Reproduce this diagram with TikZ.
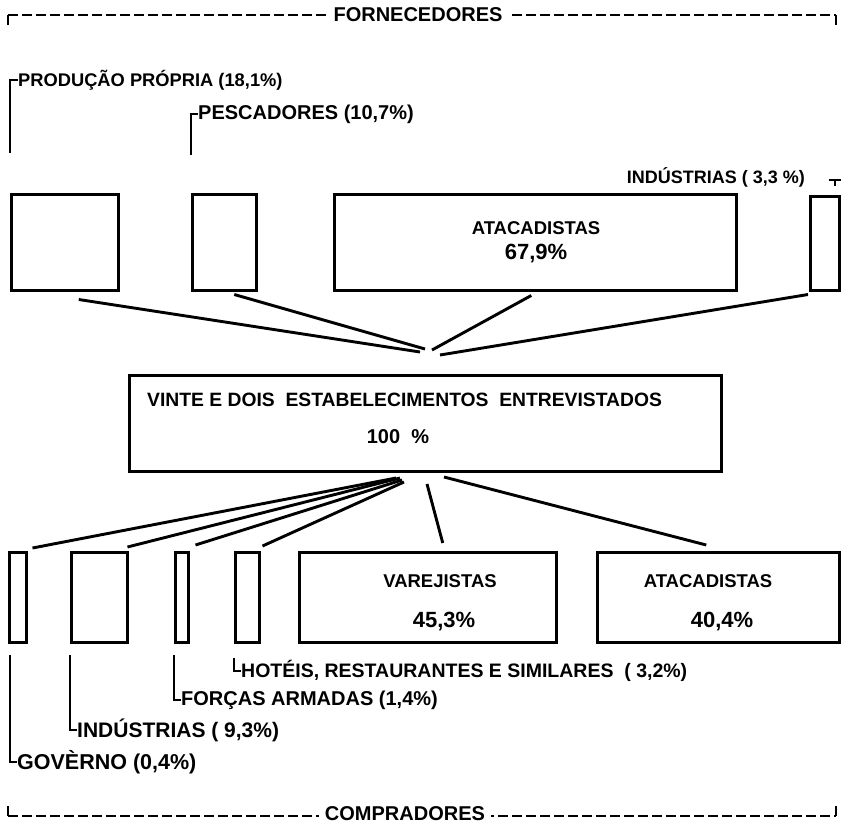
\documentclass[tikz,border=0pt]{standalone}
\usepackage{fontspec}
\setmainfont{Liberation Sans}
\begin{document}
\begin{tikzpicture}[x=1pt,y=-1pt,
  box/.style={draw,line width=2.5pt,inner sep=0pt,anchor=north west},
  conn/.style={line width=2.9pt},
  lead/.style={line width=2pt},
  rule/.style={line width=2pt,dash pattern=on 10pt off 4pt},
  lbl/.style={font=\bfseries\fontsize{20}{22}\selectfont,inner sep=0pt,anchor=west},
  boxtxt/.style={font=\bfseries\fontsize{18.5}{21}\selectfont,inner sep=0pt},
  numtxt/.style={font=\bfseries\fontsize{22}{24}\selectfont,inner sep=0pt},
  head/.style={font=\bfseries\fontsize{20}{22}\selectfont,fill=white,inner xsep=6pt,inner ysep=1pt}]
\useasboundingbox (0,0) rectangle (844,828);

% fornecedores
\draw[rule] (8,15) -- (836,15);
\draw[lead] (8,15) -- (8,25);
\draw[lead] (836,15) -- (836,25);
\node[head] (forn) at (418,15) {FORNECEDORES};

\node[box,minimum width=107pt,minimum height=96pt] (f1) at (10,193) {};
\node[box,minimum width=64pt,minimum height=96pt] (f2) at (191,193) {};
\node[box,minimum width=402pt,minimum height=96pt] (f3) at (333,193) {};
\node[box,minimum width=29pt,minimum height=94pt] (f4) at (809,195) {};

\node[boxtxt] (f3a) at (536,228) {ATACADISTAS};
\node[numtxt] (f3b) at (536,254) {67,9\%};

\node[lbl,font=\bfseries\fontsize{18.3}{20}\selectfont] (lprod) at (18,80) {PRODUÇÃO PRÓPRIA (18,1\%)};
\node[lbl] (lpesc) at (198,114) {PESCADORES (10,7\%)};
\node[lbl,font=\bfseries\fontsize{18}{20}\selectfont,anchor=east] (lindf) at (805,177) {INDÚSTRIAS ( 3,3 \%)};

\draw[lead] (lprod.west) -| ([xshift=0pt,yshift=40pt]f1.north west);
\draw[lead] (lpesc.west) -| ([yshift=38pt]f2.north west);
\draw[lead] ([xshift=-12pt,yshift=15pt]f4.north east) -- ([yshift=15pt]f4.north east);
\draw[lead] ([xshift=-6pt,yshift=15pt]f4.north east) -- ([xshift=-6pt,yshift=9pt]f4.north east);

% centro
\node[box,minimum width=592pt,minimum height=96pt] (c) at (128,374) {};
\node[boxtxt,font=\bfseries\fontsize{19.3}{22}\selectfont,anchor=west] (ca) at (147,400) {VINTE E DOIS\ \ ESTABELECIMENTOS\ \ ENTREVISTADOS};
\node[numtxt,font=\bfseries\fontsize{20}{22}\selectfont] (cb) at (398,437) {100\ \ \%};

\coordinate (tophub) at (430,353);
\draw[conn] ([xshift=14pt,yshift=-8pt]f1.south) -- ([xshift=-10pt,yshift=1pt]tophub);
\draw[conn] ([xshift=10pt,yshift=-3pt]f2.south) -- ([xshift=-5pt,yshift=4pt]tophub);
\draw[conn] ([xshift=-4pt,yshift=-4pt]f3.south) -- ([xshift=2pt,yshift=3pt]tophub);
\draw[conn] ([xshift=-1pt,yshift=-3pt]f4.south west) -- ([xshift=10pt,yshift=-2pt]tophub);

% compradores
\node[box,minimum width=17pt,minimum height=90pt] (b1) at (8,551) {};
\node[box,minimum width=56pt,minimum height=90pt] (b2) at (70,551) {};
\node[box,minimum width=13pt,minimum height=90pt] (b3) at (174,551) {};
\node[box,minimum width=24pt,minimum height=90pt] (b4) at (234,551) {};
\node[box,minimum width=257pt,minimum height=90pt] (b5) at (298,551) {};
\node[box,minimum width=242pt,minimum height=90pt] (b6) at (596,551) {};

\node[boxtxt] (b5a) at (440,581) {VAREJISTAS};
\node[numtxt] (b5b) at (444,622) {45,3\%};
\node[boxtxt] (b6a) at (708,581) {ATACADISTAS};
\node[numtxt] (b6b) at (722,622) {40,4\%};

\coordinate (bothub) at (400,478);
\draw[conn] ([xshift=-4pt,yshift=0pt]bothub) -- ([xshift=5pt,yshift=3pt]b1.north east);
\draw[conn] ([xshift=0pt,yshift=0pt]bothub) -- ([xshift=-1pt,yshift=4pt]b2.north east);
\draw[conn] ([xshift=2pt,yshift=-2pt]bothub) -- ([xshift=6pt,yshift=6pt]b3.north east);
\draw[conn] ([xshift=4pt,yshift=-4pt]bothub) -- ([xshift=2pt,yshift=5pt]b4.north east);
\draw[conn] ([xshift=27pt,yshift=-6pt]bothub) -- ([xshift=15pt,yshift=8pt]b5.north);
\draw[conn] ([xshift=44pt,yshift=1pt]bothub) -- ([xshift=-12pt,yshift=6pt]b6.north);

\node[lbl,font=\bfseries\fontsize{19.5}{22}\selectfont] (lhot) at (241,671) {HOTÉIS, RESTAURANTES E SIMILARES\ \ ( 3,2\%)};
\node[lbl] (lfor) at (181,700) {FORÇAS ARMADAS (1,4\%)};
\node[lbl,font=\bfseries\fontsize{21}{23}\selectfont] (lind) at (77,730) {INDÚSTRIAS ( 9,3\%)};
\node[lbl,font=\bfseries\fontsize{21.5}{23}\selectfont] (lgov) at (17,762) {GOVÈRNO (0,4\%)};

\draw[lead] ([yshift=-14pt]b4.south west) |- (lhot.west);
\draw[lead] ([yshift=-11pt]b3.south west) |- (lfor.west);
\draw[lead] ([yshift=-11pt]b2.south west) |- (lind.west);
\draw[lead] ([xshift=2pt,yshift=-11pt]b1.south west) |- (lgov.west);

\draw[rule] (8,816) -- (836,816);
\draw[lead] (8,806) -- (8,816);
\draw[lead] (836,806) -- (836,816);
\node[head] (comp) at (405,814) {COMPRADORES};
\end{tikzpicture}
\end{document}
